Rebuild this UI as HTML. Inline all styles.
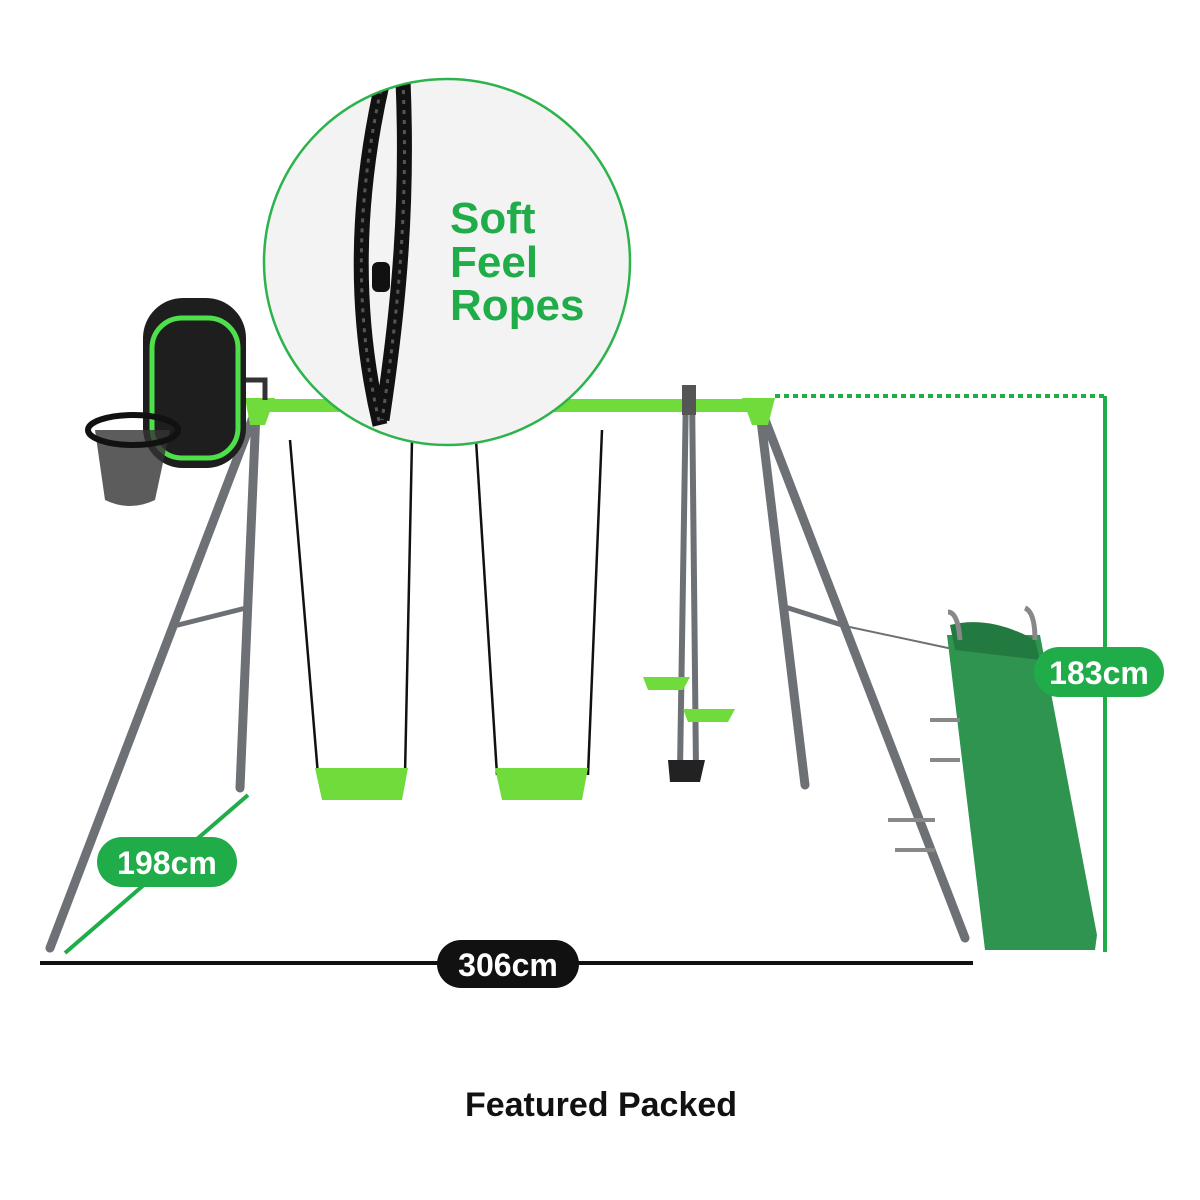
<!DOCTYPE html>
<html><head><meta charset="utf-8"><style>
html,body{margin:0;padding:0;background:#fff;}
svg{display:block;}
text{font-family:"Liberation Sans","DejaVu Sans",sans-serif;font-weight:bold;}
</style></head><body>
<svg width="1200" height="1200" viewBox="0 0 1200 1200" xmlns="http://www.w3.org/2000/svg">
<defs><clipPath id="c"><circle cx="447" cy="262" r="182"/></clipPath></defs>
<rect width="1200" height="1200" fill="#fff"/>
<g stroke="#6d7075" stroke-width="9" stroke-linecap="round">
<line x1="255" y1="412" x2="50" y2="948"/>
<line x1="256" y1="412" x2="240" y2="788"/>
<line x1="762" y1="412" x2="965" y2="938"/>
<line x1="760" y1="412" x2="805" y2="785"/>
<line x1="178" y1="625" x2="246" y2="608" stroke-width="5"/>
<line x1="782" y1="606" x2="845" y2="626" stroke-width="5"/>
<line x1="845" y1="626" x2="948" y2="648" stroke-width="2"/>
<line x1="686" y1="390" x2="680" y2="770" stroke-width="6"/>
<line x1="692" y1="390" x2="696" y2="770" stroke-width="6"/>
</g>
<rect x="255" y="399" width="515" height="13" fill="#6fdc3c"/>
<path d="M245 398 L275 398 L265 425 L250 425Z" fill="#6fdc3c"/>
<path d="M742 398 L775 398 L768 425 L752 425Z" fill="#6fdc3c"/>
<rect x="682" y="385" width="14" height="30" fill="#555"/>
<g stroke="#111" stroke-width="2.5" fill="none">
<line x1="290" y1="440" x2="318" y2="775"/><line x1="412" y1="440" x2="405" y2="775"/>
<line x1="476" y1="440" x2="497" y2="775"/><line x1="602" y1="430" x2="588" y2="775"/>
</g>
<g fill="#6fdc3c">
<path d="M315 768 L408 768 L402 800 L322 800Z"/>
<path d="M495 768 L588 768 L582 800 L502 800Z"/>
<path d="M643 677 L690 677 L683 690 L648 690Z"/>
<path d="M683 709 L735 709 L728 722 L688 722Z"/>
</g>
<path d="M668 760 L705 760 L700 782 L670 782Z" fill="#222"/>
<path d="M245 380 L265 380 L265 400" stroke="#333" stroke-width="5" fill="none"/>
<rect x="143" y="298" width="103" height="170" rx="40" fill="#1e1e1e"/>
<rect x="152" y="318" width="86" height="140" rx="30" fill="none" stroke="#4ee04a" stroke-width="5"/>
<path d="M95 430 L170 430 L155 500 Q130 512 105 500Z" fill="#333" opacity="0.8"/>
<ellipse cx="133" cy="430" rx="45" ry="15" fill="none" stroke="#111" stroke-width="6"/>
<!-- slide -->
<path d="M947 635 L1040 635 L1097 935 L1095 950 L985 950 Z" fill="#2f9450"/>
<path d="M950 625 Q990 615 1035 640 L1040 660 L955 650 Z" fill="#237a40"/>
<path d="M948 612 Q958 612 960 640" stroke="#888" stroke-width="5" fill="none"/>
<path d="M1025 608 Q1035 612 1035 640" stroke="#888" stroke-width="5" fill="none"/>
<g stroke="#888" stroke-width="4"><line x1="888" y1="820" x2="935" y2="820"/><line x1="895" y1="850" x2="935" y2="850"/><line x1="930" y1="720" x2="960" y2="720"/><line x1="930" y1="760" x2="960" y2="760"/></g>
<circle cx="447" cy="262" r="183" fill="#f3f3f3" stroke="#2cb34b" stroke-width="2.5"/>
<g clip-path="url(#c)">
<path d="M383 80 C360 180 350 300 380 425 M403 80 C408 200 400 300 382 420" stroke="#111" stroke-width="15" fill="none"/>
<path d="M383 80 C360 180 350 300 380 425 M403 80 C408 200 400 300 382 420" stroke="#555" stroke-width="3" fill="none" stroke-dasharray="4 6"/>
</g>
<rect x="372" y="262" width="18" height="30" rx="6" fill="#111"/>
<text x="450" y="233" font-size="44" fill="#21ac4a">Soft</text>
<text x="450" y="277" font-size="44" fill="#21ac4a">Feel</text>
<text x="450" y="320" font-size="44" fill="#21ac4a">Ropes</text>
<line x1="775" y1="396" x2="1105" y2="396" stroke="#21ac4a" stroke-width="4" stroke-dasharray="5 4"/>
<line x1="1105" y1="396" x2="1105" y2="952" stroke="#21ac4a" stroke-width="4"/>
<rect x="1034" y="647" width="130" height="50" rx="25" fill="#21ac4a"/>
<text x="1099" y="684" font-size="32" fill="#fff" text-anchor="middle" font-weight="normal">183cm</text>
<line x1="65" y1="953" x2="248" y2="795" stroke="#21ac4a" stroke-width="4"/>
<rect x="97" y="837" width="140" height="50" rx="25" fill="#21ac4a"/>
<text x="167" y="874" font-size="32" fill="#fff" text-anchor="middle" font-weight="normal">198cm</text>
<line x1="40" y1="963" x2="973" y2="963" stroke="#111" stroke-width="4"/>
<rect x="437" y="940" width="142" height="48" rx="24" fill="#111"/>
<text x="508" y="976" font-size="32" fill="#fff" text-anchor="middle" font-weight="normal">306cm</text>
<text x="601" y="1116" font-size="34" fill="#111" text-anchor="middle">Featured Packed</text>
</svg>
</body></html>
